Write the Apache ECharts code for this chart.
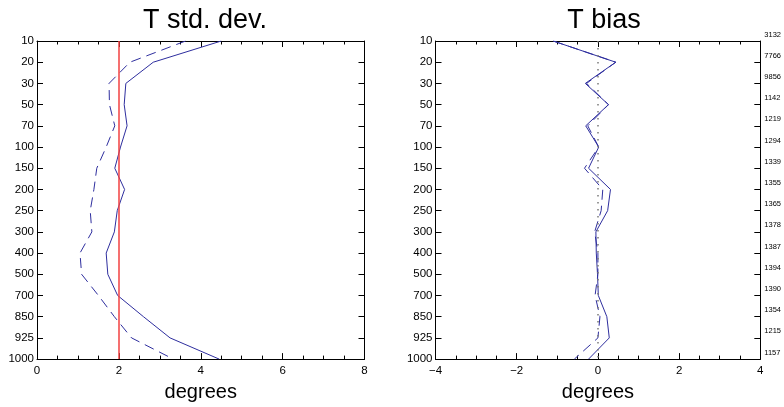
<!DOCTYPE html>
<html>
<head>
<meta charset="utf-8">
<script src="https://cdn.jsdelivr.net/npm/echarts@6/dist/echarts.min.js"></script>
<style>
  html, body { margin: 0; padding: 0; background: #fff; }
  #chart { width: 784px; height: 407px; }
</style>
</head>
<body>
<div id="chart"></div>
<script>
// Pressure levels (hPa), top of the profile first
const levels = ['10', '20', '30', '50', '70', '100', '150', '200', '250', '300', '400', '500', '700', '850', '925', '1000'];

// Temperature standard deviation (degrees)
const stdSolid  = [4.50, 2.84, 2.17, 2.13, 2.20, 2.04, 1.90, 2.14, 1.96, 1.89, 1.69, 1.73, 1.97, 2.60, 3.25, 4.45];
const stdDashed = [3.63, 2.27, 1.76, 1.77, 1.90, 1.69, 1.46, 1.39, 1.30, 1.34, 1.05, 1.09, 1.50, 1.89, 2.31, 3.33];

// Temperature bias (degrees)
const biasSolid  = [-1.10, 0.44, -0.31, 0.26, -0.30, 0.02, -0.23, 0.31, 0.24, -0.05, -0.04, -0.01, 0.01, 0.22, 0.28, -0.23];
const biasDashed = [-1.10, 0.44, -0.28, 0.26, -0.25, 0.02, -0.33, 0.12, 0.08, -0.08, 0.00, 0.00, -0.07, 0.05, 0.00, -0.58];

// Number of observations per level
const counts = ['3132', '7766', '9856', '1142', '1219', '1294', '1339', '1355', '1365', '1378', '1387', '1394', '1390', '1354', '1215', '1157'];

// Reference lines
const stdReference = 2;
const biasReference = 0;

const FONT = 'Liberation Sans, Arial, sans-serif';
const NAVY = '#2e2e9e';

const chart = echarts.init(document.getElementById('chart'), null, { renderer: 'canvas' });

// Typographic minus for negative tick values
const minusFormatter = v => String(v).replace('-', '\u2212');

function bottomAxis(gridIndex, min, max, nameGap) {
  return {
    type: 'value', gridIndex, position: 'bottom', min, max, interval: 2,
    name: 'degrees', nameLocation: 'middle', nameGap,
    nameTextStyle: { fontFamily: FONT, fontSize: 20, color: '#000' },
    axisLine: { show: true, onZero: false, lineStyle: { color: '#000', width: 1 } },
    axisTick: { show: true, inside: true, length: 6, lineStyle: { color: '#000' } },
    minorTick: { show: true, splitNumber: 4, length: 3.5, lineStyle: { color: '#000' } },
    axisLabel: { fontFamily: FONT, fontSize: 11.5, color: '#000', margin: 6, formatter: minusFormatter },
    splitLine: { show: false }
  };
}
function topAxis(gridIndex, min, max) {
  return {
    type: 'value', gridIndex, position: 'top', min, max, interval: 2,
    axisLine: { show: true, onZero: false, lineStyle: { color: '#000', width: 1 } },
    axisTick: { show: true, inside: true, length: 6, lineStyle: { color: '#000' } },
    minorTick: { show: true, splitNumber: 4, length: 3.5, lineStyle: { color: '#000' } },
    axisLabel: { show: false },
    splitLine: { show: false }
  };
}
function levelAxis(gridIndex, position, data, label) {
  return {
    type: 'category', gridIndex, position, data, inverse: true, boundaryGap: false,
    axisLine: { show: true, onZero: false, lineStyle: { color: '#000', width: 1 } },
    axisTick: { show: true, inside: true, length: 6, interval: 0, lineStyle: { color: '#000' } },
    axisLabel: label,
    splitLine: { show: false }
  };
}
const levelLabel = { show: true, interval: 0, fontFamily: FONT, fontSize: 11.5, color: '#000', margin: 3 };
const countLabel = { show: true, interval: 0, fontFamily: FONT, fontSize: 7.5, color: '#000', margin: 4,
  verticalAlign: 'bottom', lineHeight: 7, padding: [0, 0, 3, 0] };

function profile(values, xi, yi, dashed) {
  return {
    type: 'line', xAxisIndex: xi, yAxisIndex: yi,
    data: values.map((v, i) => [v, i]),
    showSymbol: false, symbol: 'none', silent: true,
    lineStyle: { color: NAVY, width: 1, type: dashed ? [10, 6] : 'solid' },
    z: 3
  };
}

chart.setOption({
  animation: false,
  backgroundColor: '#fff',
  title: [
    { text: 'T std. dev.', left: 200, top: 2, textAlign: 'center',
      textStyle: { fontFamily: FONT, fontSize: 27, fontWeight: 'normal', color: '#000' } },
    { text: 'T bias', left: 599, top: 2, textAlign: 'center',
      textStyle: { fontFamily: FONT, fontSize: 27, fontWeight: 'normal', color: '#000' } }
  ],
  grid: [
    { left: 37, right: 419.5, top: 41, bottom: 47.7, containLabel: false },
    { left: 435.5, right: 21.5, top: 41, bottom: 47.7, containLabel: false }
  ],
  xAxis: [
    bottomAxis(0, 0, 8, 19),
    topAxis(0, 0, 8),
    bottomAxis(1, -4, 4, 22),
    topAxis(1, -4, 4)
  ],
  yAxis: [
    levelAxis(0, 'left', levels, levelLabel),
    levelAxis(0, 'right', levels, { show: false }),
    levelAxis(1, 'left', levels, levelLabel),
    levelAxis(1, 'right', counts, countLabel)
  ],
  series: [
    Object.assign(profile(stdSolid, 0, 0, false), {
      markLine: {
        silent: true, symbol: 'none', label: { show: false },
        lineStyle: { color: '#f24040', width: 1.5, type: 'solid' },
        data: [{ xAxis: stdReference }]
      }
    }),
    profile(stdDashed, 0, 0, true),
    Object.assign(profile(biasSolid, 2, 2, false), {
      markLine: {
        silent: true, symbol: 'none', label: { show: false },
        lineStyle: { color: '#7a7a7a', width: 1.5, type: [1.5, 5.5] },
        data: [{ xAxis: biasReference }]
      }
    }),
    profile(biasDashed, 2, 2, true)
  ]
});
</script>
</body>
</html>
